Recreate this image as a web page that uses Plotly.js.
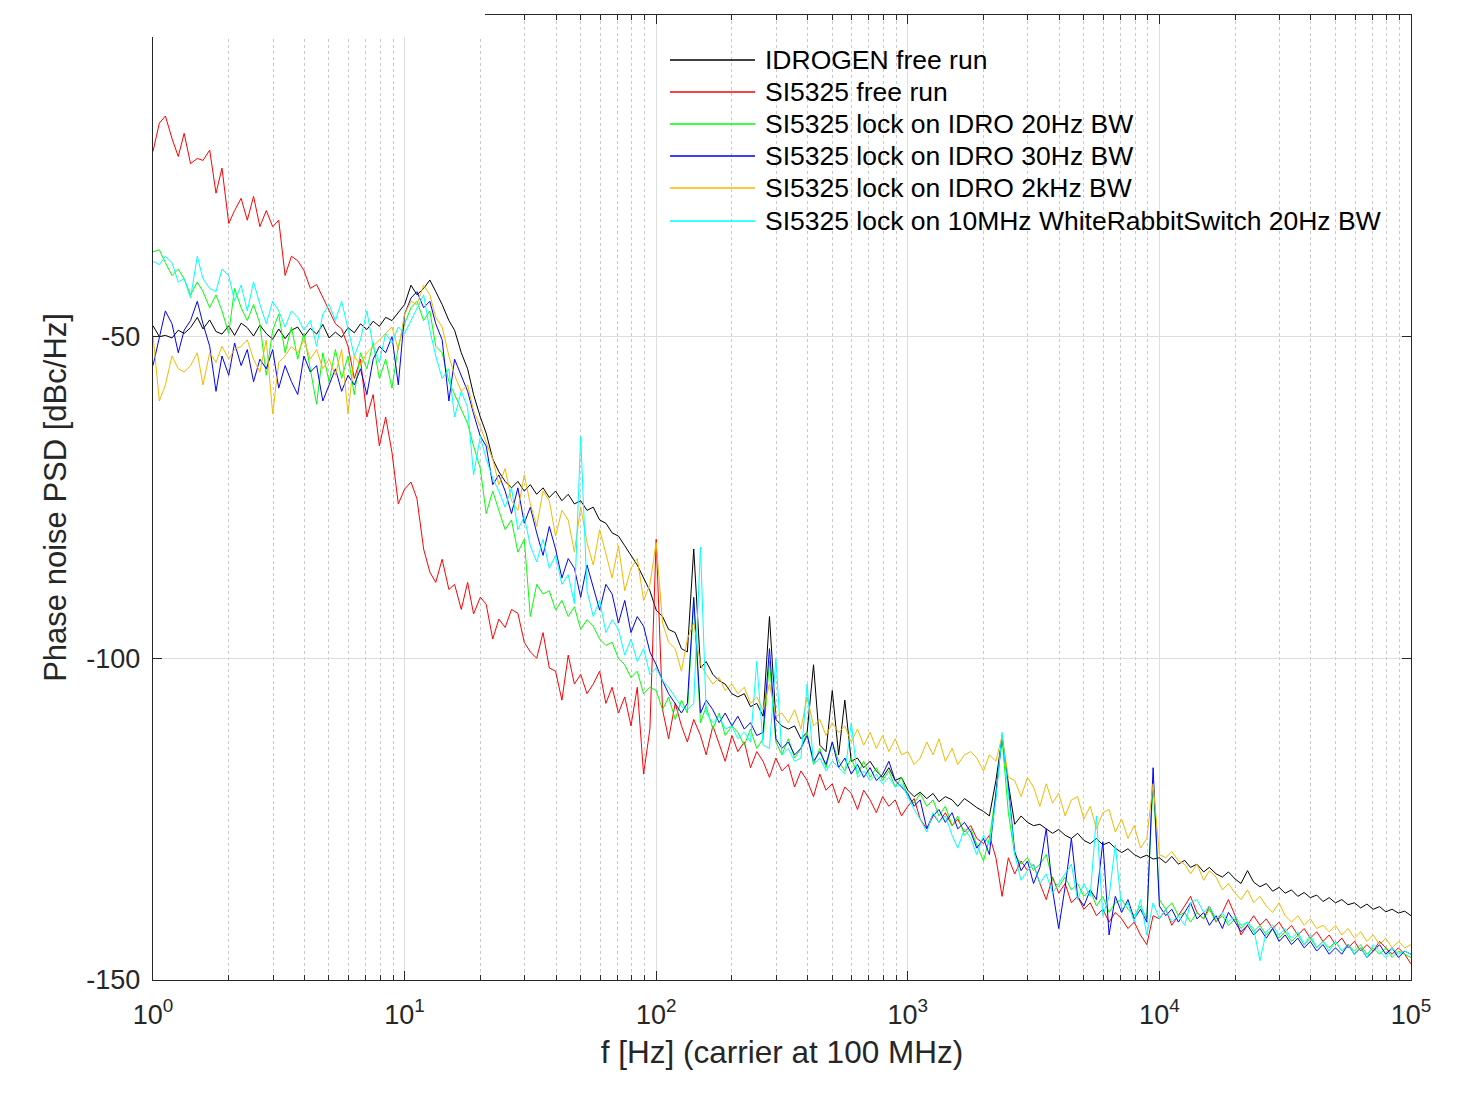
<!DOCTYPE html>
<html>
<head>
<meta charset="utf-8">
<script src="https://cdn.plot.ly/plotly-3.0.1.min.js"></script>
<style>html,body{margin:0;padding:0;background:#fff;}#chart{width:1460px;height:1094px;}</style>
</head>
<body>
<div id="chart"></div>
<script>
// Frequency grid [Hz]
const freq = [
1,1.06,1.12,1.19,1.26,1.33,1.41,1.5,1.58,1.68,1.78,1.88,2,2.11,2.24,2.37,2.51,2.66,2.82,2.99,3.16,3.35,3.55,3.76,3.98,4.22,4.47,4.73,5.01,5.31,5.62,5.96,6.31,6.68,7.08,7.5,7.94,8.41,8.91,9.44,
10,10.6,11.2,11.9,12.6,13.3,14.1,15,15.8,16.8,17.8,18.8,20,21.1,22.4,23.7,25.1,26.6,28.2,29.9,31.6,33.5,35.5,37.6,39.8,42.2,44.7,47.3,50.1,53.1,56.2,59.6,63.1,66.8,70.8,75,79.4,84.1,89.1,94.4,
100,106,112,119,126,133,141,150,158,168,178,188,200,211,224,237,251,266,282,299,316,335,355,376,398,422,447,473,501,531,562,596,631,668,708,750,794,841,891,944,
1000,1060,1120,1190,1260,1330,1410,1500,1580,1680,1780,1880,2000,2110,2240,2370,2510,2660,2820,2990,3160,3350,3550,3760,3980,4220,4470,4730,5010,5310,5620,5960,6310,6680,7080,7500,7940,8410,8910,9440,
10000,10600,11200,11900,12600,13300,14100,15000,15800,16800,17800,18800,20000,21100,22400,23700,25100,26600,28200,29900,31600,33500,35500,37600,39800,42200,44700,47300,50100,53100,56200,59600,63100,66800,70800,75000,79400,84100,89100,94400,
100000];

const idrogenFree = [
-48.3,-50.0,-49.8,-50.2,-49.0,-49.5,-48.6,-47.0,-48.8,-47.4,-49.2,-49.6,-48.3,-49.8,-47.9,-48.6,-49.9,-48.2,-49.5,-50.4,-48.8,-50.3,-49.0,-48.5,-50.0,-48.7,-49.6,-48.1,-50.2,-49.3,-50.1,-48.6,-49.4,-48.0,-48.9,-47.6,-48.4,-47.0,-47.5,-46.2,
-45.0,-42.0,-43.5,-42.5,-41.2,-43.0,-45.0,-47.5,-49.0,-52.5,-55.0,-59.0,-62.5,-65.0,-69.0,-71.0,-72.5,-73.5,-72.5,-74.0,-73.0,-74.5,-73.5,-75.0,-74.0,-75.5,-74.5,-76.0,-75.5,-77.0,-76.5,-78.5,-79.0,-80.5,-81.0,-82.5,-84.0,-85.5,-87.5,-89.5,
-92.5,-93.5,-95.5,-96.0,-98.5,-99.0,-83.0,-101.5,-100.5,-102.5,-103.5,-104.0,-105.5,-106.0,-105.5,-107.5,-107.0,-109.0,-93.5,-109.5,-110.5,-111.0,-110.5,-112.5,-111.5,-101.0,-113.5,-114.5,-105.0,-115.0,-106.5,-116.0,-115.5,-117.0,-116.0,-117.5,-118.5,-117.0,-119.0,-118.5,
-120.5,-121.5,-120.8,-121.8,-121.0,-122.3,-121.5,-122.0,-123.0,-121.8,-122.5,-123.2,-123.8,-124.5,-119.0,-112.3,-119.5,-125.8,-124.5,-125.5,-126.0,-125.8,-126.5,-127.2,-126.6,-127.5,-128.0,-127.2,-128.3,-128.8,-128.0,-129.0,-128.6,-129.5,-130.2,-129.6,-130.5,-131.0,-130.6,-131.2,
-131.0,-131.8,-130.8,-132.0,-131.4,-132.5,-132.0,-133.2,-132.5,-133.5,-134.0,-133.2,-134.3,-135.0,-133.0,-134.8,-135.5,-135.0,-136.2,-135.6,-136.5,-136.0,-137.0,-136.4,-137.2,-136.8,-137.8,-137.2,-138.0,-137.5,-138.3,-138.0,-138.8,-138.2,-139.0,-138.6,-139.4,-139.0,-139.6,-139.3,
-140.0];

const si5325Free = [
-21.2,-16.8,-15.7,-19.2,-22.0,-18.4,-23.1,-22.3,-22.6,-21.0,-27.7,-23.8,-32.4,-30.4,-28.5,-31.9,-28.2,-32.9,-30.4,-32.9,-31.9,-40.5,-37.5,-38.2,-39.7,-42.5,-41.9,-43.8,-45.9,-48.0,-48.8,-51.5,-56.5,-53.5,-62.5,-59.0,-67.0,-62.5,-68.0,-76.0,
-73.7,-72.6,-75.2,-83.0,-86.6,-88.2,-84.6,-89.3,-88.5,-92.4,-88.2,-93.1,-90.5,-91.6,-97.0,-93.9,-95.2,-92.4,-93.0,-97.5,-99.0,-100.0,-96.0,-101.5,-102.0,-106.5,-99.5,-104.0,-102.5,-105.5,-104.0,-102.0,-107.0,-104.5,-108.5,-106.0,-110.5,-104.5,-118.0,-111.0,
-81.5,-108.0,-112.5,-107.0,-110.5,-113.0,-109.5,-112.0,-115.0,-110.5,-113.5,-116.0,-112.0,-114.5,-113.0,-117.0,-114.5,-116.0,-118.5,-115.5,-117.5,-116.5,-120.0,-117.5,-119.0,-121.5,-118.0,-120.5,-119.5,-122.5,-120.0,-121.0,-123.5,-120.5,-122.0,-124.0,-121.5,-123.0,-122.0,-124.5,
-123.0,-121.8,-125.0,-126.5,-124.2,-125.5,-124.0,-126.0,-125.0,-127.0,-126.0,-128.0,-128.8,-127.5,-131.0,-137.0,-131.0,-133.5,-131.5,-133.0,-132.0,-135.0,-137.5,-134.0,-136.5,-135.0,-138.0,-137.0,-139.0,-138.0,-140.0,-139.0,-141.0,-139.5,-140.5,-142.0,-141.0,-143.0,-144.5,-140.0,
-140.5,-139.0,-141.5,-140.0,-138.5,-137.0,-139.5,-140.5,-138.5,-141.0,-139.5,-137.5,-140.0,-143.0,-141.5,-140.0,-141.5,-140.5,-142.0,-141.0,-142.5,-141.5,-143.0,-142.0,-143.5,-142.5,-144.0,-143.0,-144.5,-143.5,-145.0,-144.0,-145.5,-144.5,-145.5,-144.0,-145.0,-146.0,-145.0,-146.0,
-147.5];

const lockIdro20 = [
-36.8,-36.5,-38.5,-40.5,-39.5,-41.0,-43.5,-41.5,-43.0,-45.5,-43.5,-46.0,-49.5,-42.5,-45.5,-47.5,-45.0,-48.0,-56.0,-49.0,-46.5,-52.5,-48.5,-53.5,-49.5,-55.0,-60.5,-52.5,-57.0,-52.0,-56.5,-53.0,-59.0,-52.5,-55.0,-51.0,-56.5,-53.5,-58.0,-51.5,
-48.0,-45.5,-44.5,-47.5,-46.0,-51.5,-52.5,-57.0,-59.0,-61.5,-63.5,-67.0,-70.5,-77.5,-74.0,-77.0,-80.0,-78.5,-83.5,-81.5,-93.5,-88.5,-90.0,-89.5,-92.5,-91.0,-93.5,-92.0,-95.5,-94.0,-95.0,-97.0,-98.0,-97.5,-100.0,-101.0,-103.0,-102.0,-105.5,-104.5,
-105.0,-108.0,-106.0,-109.5,-106.5,-108.5,-91.0,-110.0,-107.5,-111.0,-108.5,-112.0,-110.5,-111.5,-113.5,-111.0,-114.0,-112.5,-100.5,-113.0,-115.0,-112.5,-115.5,-114.0,-111.5,-116.5,-114.0,-117.0,-113.0,-116.0,-117.5,-115.5,-118.0,-116.0,-118.5,-117.0,-119.0,-117.5,-120.0,-118.5,
-121.5,-122.5,-121.0,-123.0,-122.0,-124.5,-123.0,-126.0,-124.5,-127.5,-126.5,-129.0,-131.5,-128.0,-121.0,-112.5,-124.0,-130.5,-132.0,-131.0,-133.0,-132.0,-130.5,-134.5,-135.5,-134.0,-136.0,-135.0,-137.0,-136.0,-138.5,-137.0,-139.5,-138.0,-137.5,-139.0,-140.0,-138.5,-140.5,-119.0,
-137.5,-139.0,-138.0,-140.0,-139.5,-141.0,-139.5,-140.5,-139.0,-141.0,-140.0,-141.5,-140.5,-142.0,-141.0,-142.5,-141.5,-143.0,-142.0,-143.5,-142.5,-144.0,-143.0,-144.5,-143.5,-145.0,-144.0,-145.0,-144.0,-145.5,-144.5,-145.5,-144.5,-146.0,-145.0,-146.0,-145.0,-146.5,-145.5,-146.0,
-146.5];

const lockIdro30 = [
-54.5,-50.0,-46.0,-48.0,-52.5,-49.0,-47.5,-44.5,-48.0,-51.5,-58.5,-53.0,-56.0,-51.0,-54.5,-52.0,-57.0,-53.5,-55.0,-52.0,-58.0,-54.5,-57.0,-59.0,-53.0,-55.5,-54.5,-60.0,-57.5,-55.0,-58.5,-56.0,-57.5,-55.0,-59.0,-53.5,-51.5,-52.5,-50.0,-57.5,
-46.5,-44.0,-43.0,-45.5,-44.5,-48.0,-50.5,-60.0,-53.5,-56.0,-58.5,-62.0,-65.5,-67.0,-73.0,-71.5,-74.0,-77.5,-73.5,-79.0,-76.5,-80.5,-84.0,-79.5,-83.0,-87.5,-84.5,-86.0,-90.5,-85.5,-89.0,-92.5,-88.5,-90.0,-94.5,-91.0,-96.0,-93.5,-95.0,-99.0,
-101.0,-103.5,-105.5,-107.0,-108.5,-107.0,-90.5,-108.5,-106.5,-108.0,-110.0,-108.5,-110.5,-109.0,-111.0,-110.0,-112.0,-111.5,-98.5,-112.5,-114.0,-113.0,-115.0,-114.0,-112.0,-116.0,-114.5,-116.5,-113.0,-117.0,-115.5,-118.0,-116.5,-118.5,-117.0,-119.0,-118.0,-116.0,-119.0,-120.0,
-121.0,-123.0,-122.0,-126.5,-124.5,-123.5,-125.5,-124.0,-126.5,-125.5,-127.0,-129.5,-128.0,-130.5,-121.5,-112.0,-120.0,-130.0,-133.0,-131.5,-135.0,-132.5,-126.5,-136.0,-142.0,-135.5,-128.0,-137.0,-138.5,-136.0,-137.5,-128.5,-143.0,-137.0,-139.5,-137.5,-140.5,-139.0,-141.0,-117.0,
-138.5,-140.0,-139.0,-141.0,-139.5,-138.0,-140.5,-139.5,-141.5,-140.0,-142.0,-139.5,-141.0,-142.5,-141.5,-143.0,-142.0,-143.5,-142.0,-144.0,-143.0,-144.5,-143.5,-145.0,-144.0,-145.5,-144.5,-146.0,-145.0,-146.0,-144.5,-146.0,-145.0,-146.5,-145.5,-144.5,-146.0,-145.0,-146.5,-145.5,
-146.0];

const lockIdro2k = [
-49.8,-60.0,-57.5,-53.0,-55.0,-55.5,-54.5,-52.5,-57.5,-52.5,-54.0,-51.5,-53.5,-52.0,-51.5,-50.5,-53.5,-55.5,-50.5,-62.0,-54.0,-53.0,-51.5,-52.5,-50.5,-53.5,-52.0,-55.0,-53.5,-56.0,-52.0,-62.0,-53.0,-54.5,-52.5,-51.5,-50.5,-49.5,-48.5,-52.0,
-46.5,-44.5,-45.0,-42.0,-43.5,-47.0,-48.5,-53.0,-56.0,-58.5,-57.5,-61.5,-64.0,-66.5,-69.0,-73.0,-70.5,-75.5,-77.0,-71.5,-76.0,-79.5,-74.0,-75.5,-81.0,-77.0,-78.5,-83.5,-76.5,-82.0,-85.5,-80.0,-84.0,-87.5,-82.5,-89.5,-86.0,-84.5,-91.0,-88.5,
-82.0,-94.5,-97.5,-98.5,-102.0,-97.0,-94.5,-101.0,-102.5,-104.0,-103.0,-105.0,-104.0,-105.5,-104.5,-107.0,-106.0,-108.0,-104.0,-109.0,-108.5,-110.0,-108.0,-111.0,-106.0,-110.5,-109.5,-112.0,-110.0,-111.5,-110.5,-113.0,-111.0,-113.5,-111.5,-114.0,-112.0,-114.5,-112.5,-115.0,
-114.5,-116.5,-115.5,-113.0,-115.0,-112.5,-116.0,-114.0,-116.5,-115.0,-114.5,-115.5,-117.5,-115.0,-116.0,-112.0,-118.5,-119.0,-121.5,-118.5,-120.0,-123.0,-119.5,-122.5,-121.0,-124.5,-122.0,-121.5,-125.0,-123.0,-126.5,-124.0,-123.5,-127.0,-125.0,-128.0,-126.0,-129.5,-128.0,-119.5,
-130.5,-131.0,-130.0,-131.5,-132.0,-133.5,-132.0,-134.5,-133.0,-134.0,-136.0,-135.0,-136.5,-137.5,-136.0,-138.0,-137.0,-138.5,-139.5,-138.0,-140.0,-141.0,-140.0,-141.5,-140.5,-142.0,-141.5,-142.5,-141.5,-143.0,-142.0,-143.5,-142.5,-144.0,-143.0,-144.5,-143.5,-145.0,-144.0,-145.0,
-144.5];

const lockWrSwitch20 = [
-38.3,-38.8,-37.5,-38.5,-41.5,-41.0,-44.0,-37.5,-41.0,-42.5,-43.0,-39.5,-40.5,-44.5,-42.0,-46.0,-41.5,-45.0,-48.0,-44.5,-46.0,-48.5,-46.0,-47.0,-49.0,-47.5,-51.5,-46.5,-45.0,-47.5,-44.5,-49.0,-53.0,-50.5,-46.0,-51.5,-54.0,-49.5,-51.0,-48.5,
-49.5,-47.5,-45.5,-43.5,-49.0,-53.0,-56.5,-55.0,-62.5,-58.5,-61.0,-71.5,-65.5,-69.0,-72.0,-74.0,-76.5,-73.5,-80.0,-78.0,-82.5,-85.0,-81.5,-86.0,-84.0,-88.5,-87.0,-91.5,-65.5,-89.5,-93.5,-91.0,-96.0,-94.0,-95.5,-99.5,-97.0,-100.5,-98.5,-102.5,
-101.5,-103.5,-104.5,-106.0,-107.5,-108.0,-107.0,-82.7,-108.5,-110.0,-109.0,-111.0,-110.5,-112.5,-111.5,-113.0,-100.5,-113.5,-114.0,-100.0,-115.0,-114.0,-116.0,-115.5,-104.0,-116.5,-115.5,-117.5,-116.0,-117.0,-118.0,-110.0,-118.5,-117.5,-119.0,-118.0,-119.5,-118.5,-120.0,-119.5,
-121.5,-123.5,-125.0,-127.0,-124.0,-125.5,-124.5,-127.5,-129.5,-126.5,-128.0,-130.5,-127.5,-129.0,-122.0,-111.5,-121.0,-130.5,-134.5,-133.0,-132.0,-135.0,-133.5,-136.5,-135.0,-133.5,-132.0,-137.5,-135.0,-137.0,-124.5,-140.0,-137.0,-129.0,-139.0,-138.0,-141.0,-137.5,-143.0,-138.0,
-140.5,-139.0,-141.0,-140.0,-141.5,-138.0,-137.5,-139.5,-138.5,-140.5,-139.5,-141.0,-140.0,-141.5,-141.0,-142.0,-147.0,-142.5,-141.5,-143.0,-142.0,-143.5,-142.5,-144.5,-143.0,-145.0,-144.0,-145.5,-144.0,-145.5,-144.5,-146.0,-145.0,-146.5,-144.5,-145.5,-146.5,-145.0,-146.0,-145.5,
-146.0];

const seriesNames = [
  "IDROGEN free run",
  "SI5325 free run",
  "SI5325 lock on IDRO 20Hz BW",
  "SI5325 lock on IDRO 30Hz BW",
  "SI5325 lock on IDRO 2kHz BW",
  "SI5325 lock on 10MHz WhiteRabbitSwitch 20Hz BW"
];
const seriesColors = ["#000000", "#ff0000", "#00ff00", "#0000ff", "#f5b800", "#00ffff"];
const xTickVals = [1, 10, 100, 1000, 10000, 100000];
const xTickText = ["10<sup>0</sup>", "10<sup>1</sup>", "10<sup>2</sup>", "10<sup>3</sup>", "10<sup>4</sup>", "10<sup>5</sup>"];
const yTickVals = [-150, -100, -50];
const yTickText = ["-150", "-100", "-50"];

const seriesValues = [idrogenFree, si5325Free, lockIdro20, lockIdro30, lockIdro2k, lockWrSwitch20];

const FONT = "Liberation Sans, Arial, Helvetica, sans-serif";
const traces = seriesValues.map((vals, i) => ({
  type: "scatter",
  mode: "lines",
  x: freq,
  y: vals,
  name: seriesNames[i],
  line: {color: seriesColors[i], width: 1},
  showlegend: false
}));

// Manual MATLAB-style legend (long line samples, no box)
const legRowPx = [60, 92, 124, 156, 188, 221];
const plotTop = 15, plotBottom = 980, plotLeft = 153, plotRight = 1411;
const py = p => (plotBottom - p) / (plotBottom - plotTop);
const px = p => (p - plotLeft) / (plotRight - plotLeft);
const shapes = [];
const annotations = [];
seriesNames.forEach((nm, i) => {
  shapes.push({type: "line", xref: "paper", yref: "paper", x0: px(670), x1: px(755), y0: py(legRowPx[i]), y1: py(legRowPx[i]), line: {color: seriesColors[i], width: 1.3}});
  annotations.push({xref: "paper", yref: "paper", x: px(763), y: py(legRowPx[i]), xanchor: "left", yanchor: "middle", text: nm, showarrow: false, font: {family: FONT, size: 26.5, color: "#000"}});
});
// cropped top-left corner of the original figure
shapes.push({type: "rect", xref: "paper", yref: "paper", x0: -0.02, x1: px(485), y0: py(37), y1: 1.03, fillcolor: "#ffffff", line: {width: 0}, layer: "above"});

const layout = {
  width: 1460, height: 1094,
  margin: {l: 153, r: 49, t: 15, b: 114},
  paper_bgcolor: "#ffffff", plot_bgcolor: "#ffffff",
  font: {family: FONT, color: "#262626"},
  showlegend: false,
  xaxis: {
    type: "log", range: [0, 5],
    tickvals: xTickVals, ticktext: xTickText,
    ticks: "inside", ticklen: 9, tickwidth: 1, tickcolor: "#262626",
    showline: true, linecolor: "#262626", linewidth: 1.2, mirror: "ticks",
    showgrid: true, gridcolor: "#dedede", gridwidth: 1,
    minor: {dtick: "D1", ticks: "inside", ticklen: 5, tickcolor: "#262626", showgrid: true, gridcolor: "#c8c8c8", griddash: "dot", gridwidth: 1},
    tickfont: {family: FONT, size: 27, color: "#262626"},
    ticklabelstandoff: 10,
    zeroline: false,
    title: {text: "f [Hz] (carrier at 100 MHz)", font: {family: FONT, size: 31.5, color: "#262626"}, standoff: 12}
  },
  yaxis: {
    range: [-150, 0],
    tickvals: yTickVals, ticktext: yTickText,
    ticks: "inside", ticklen: 9, tickwidth: 1, tickcolor: "#262626",
    showline: true, linecolor: "#262626", linewidth: 1.2, mirror: "ticks",
    showgrid: true, gridcolor: "#dedede", gridwidth: 1,
    tickfont: {family: FONT, size: 27, color: "#262626"},
    ticklabelstandoff: 6,
    zeroline: false,
    title: {text: "Phase noise PSD [dBc/Hz]", font: {family: FONT, size: 31, color: "#262626"}, standoff: 10}
  },
  shapes: shapes,
  annotations: annotations
};

Plotly.newPlot("chart", traces, layout, {displayModeBar: false, staticPlot: true});
</script>
</body>
</html>
